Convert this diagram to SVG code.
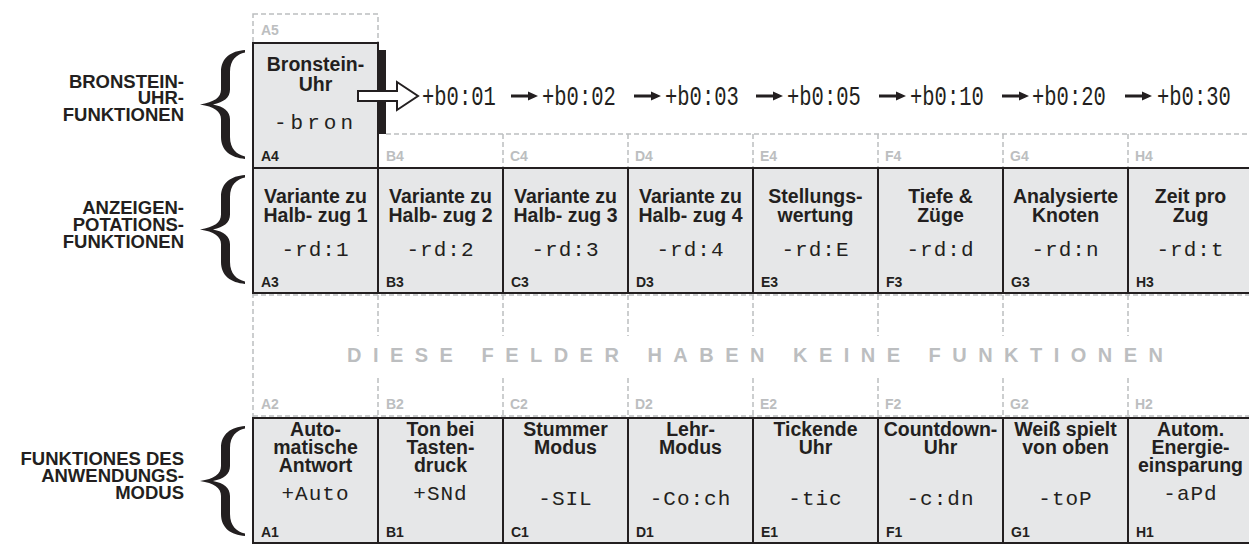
<svg xmlns="http://www.w3.org/2000/svg" xmlns:xlink="http://www.w3.org/1999/xlink" width="1249" height="545" viewBox="0 0 1249 545">
<style>
.cell{fill:#e6e7e8;stroke:#231f20;stroke-width:2}
.t{font-family:"Liberation Sans",Arial,sans-serif;font-weight:bold;font-size:19.5px;fill:#231f20;text-anchor:middle}
.lcd{font-family:"Liberation Mono","DejaVu Sans Mono",monospace;font-size:21px;fill:#231f20;text-anchor:middle;letter-spacing:1px}
.clk{font-family:"Liberation Mono","DejaVu Sans Mono",monospace;font-size:20.5px;fill:#231f20}
.id{font-family:"Liberation Sans",Arial,sans-serif;font-weight:bold;font-size:14px;fill:#231f20}
.gid{font-family:"Liberation Sans",Arial,sans-serif;font-weight:bold;font-size:14px;fill:#bcbec0}
.dash{stroke:#bcbec0;stroke-width:1.5;stroke-dasharray:5 3;fill:none}
.side{font-family:"Liberation Sans",Arial,sans-serif;font-weight:bold;font-size:18.5px;fill:#231f20;text-anchor:end}
.note{font-family:"Liberation Sans",Arial,sans-serif;font-weight:bold;font-size:20px;fill:#bcbec0}
.brace{fill:#231f20}
.ar{fill:#231f20}
</style>
<defs>
<path id="brace" d="M45,0 C31,1 21,8 21,22 L21,40 C21,48 14,53 0,55 C14,57 21,62 21,70 L21,88 C21,102 31,109 45,110 L45,107.5 C37,106 30,100 30,88 L30,70 C30,62 24,57 13,55 C24,53 30,48 30,40 L30,22 C30,10 37,4 45,2.5 Z"/>
<path id="arr" d="M0,-1.6 L17,-1.6 L17,-4.6 L27,0 L17,4.6 L17,1.6 L0,1.6 Z"/>
</defs>

<g id="grid">
<rect class="dash" x="253" y="14" width="125" height="29"/>
<line class="dash" x1="386" y1="134" x2="1249" y2="134"/>
<path class="dash" d="M503,134V168M628,134V168M753,134V168M878,134V168M1003,134V168M1128,134V168"/>
<line class="dash" x1="253" y1="295" x2="1249" y2="295"/>
<line class="dash" x1="253" y1="416" x2="1249" y2="416"/>
<line class="dash" x1="253" y1="293" x2="253" y2="418"/>
<path class="dash" d="M378,295V336M503,295V336M628,295V336M753,295V336M878,295V336M1003,295V336M1128,295V336"/>
<path class="dash" d="M378,378V418M503,378V418M628,378V418M753,378V418M878,378V418M1003,378V418M1128,378V418"/>
<text class="gid" x="261" y="35">A5</text>
<text class="gid" x="386" y="161">B4</text><text class="gid" x="510" y="161">C4</text><text class="gid" x="635" y="161">D4</text><text class="gid" x="760" y="161">E4</text><text class="gid" x="885" y="161">F4</text><text class="gid" x="1010" y="161">G4</text><text class="gid" x="1135" y="161">H4</text>
<text class="gid" x="261" y="409">A2</text><text class="gid" x="386" y="409">B2</text><text class="gid" x="510" y="409">C2</text><text class="gid" x="635" y="409">D2</text><text class="gid" x="760" y="409">E2</text><text class="gid" x="885" y="409">F2</text><text class="gid" x="1010" y="409">G2</text><text class="gid" x="1135" y="409">H2</text>
<text class="note" x="347" y="362" textLength="816" lengthAdjust="spacing">DIESE FELDER HABEN KEINE FUNKTIONEN</text>
</g>

<g id="group-labels">
<use href="#brace" class="brace" transform="translate(200,50) scale(1,0.99)"/>
<text class="side" x="184" y="88">BRONSTEIN-</text>
<text class="side" x="184" y="104">UHR-</text>
<text class="side" x="184" y="121">FUNKTIONEN</text>
<use href="#brace" class="brace" transform="translate(200,175) scale(1,0.99)"/>
<text class="side" x="184" y="214">ANZEIGEN-</text>
<text class="side" x="184" y="231">POTATIONS-</text>
<text class="side" x="184" y="248">FUNKTIONEN</text>
<use href="#brace" class="brace" transform="translate(200,426) scale(1,1.0)"/>
<text class="side" x="184" y="465">FUNKTIONES DES</text>
<text class="side" x="184" y="482">ANWENDUNGS-</text>
<text class="side" x="184" y="499">MODUS</text>
</g>

<g id="A4">
<rect class="cell" x="253" y="43" width="125" height="125"/>
<rect x="379" y="50" width="7" height="84" fill="#231f20"/>
<text class="t" x="315.5" y="71">Bronstein-</text>
<text class="t" x="315.5" y="91">Uhr</text>
<text class="lcd" x="315.5" y="129" style="letter-spacing:4px">-bron</text>
<text class="id" x="261" y="161">A4</text>
</g>

<g id="clock-values">
<text class="clk" transform="translate(422,105) scale(1,1.35)">+b0:01</text>
<text class="clk" transform="translate(542,105) scale(1,1.35)">+b0:02</text>
<text class="clk" transform="translate(665,105) scale(1,1.35)">+b0:03</text>
<text class="clk" transform="translate(787,105) scale(1,1.35)">+b0:05</text>
<text class="clk" transform="translate(910,105) scale(1,1.35)">+b0:10</text>
<text class="clk" transform="translate(1032,105) scale(1,1.35)">+b0:20</text>
<text class="clk" transform="translate(1157,105) scale(1,1.35)">+b0:30</text>
</g>

<g id="connectors">
<path d="M358,91 L397,91 L397,82 L418,96 L397,110 L397,101 L358,101 Z" fill="#fff" stroke="#231f20" stroke-width="2" stroke-linejoin="miter"/>
<use href="#arr" class="ar" transform="translate(511,96)"/>
<use href="#arr" class="ar" transform="translate(634,96)"/>
<use href="#arr" class="ar" transform="translate(756,96)"/>
<use href="#arr" class="ar" transform="translate(879,96)"/>
<use href="#arr" class="ar" transform="translate(1002,96)"/>
<use href="#arr" class="ar" transform="translate(1125,96)"/>
</g>

<g id="A3"><rect class="cell" x="253" y="168" width="125" height="125"/><text class="t" x="315.5" y="203">Variante zu</text><text class="t" x="315.5" y="222">Halb- zug 1</text><text class="lcd" x="315.5" y="256">-rd:1</text><text class="id" x="261" y="287">A3</text></g>
<g id="B3"><rect class="cell" x="378" y="168" width="125" height="125"/><text class="t" x="440.5" y="203">Variante zu</text><text class="t" x="440.5" y="222">Halb- zug 2</text><text class="lcd" x="440.5" y="256">-rd:2</text><text class="id" x="386" y="287">B3</text></g>
<g id="C3"><rect class="cell" x="503" y="168" width="125" height="125"/><text class="t" x="565.5" y="203">Variante zu</text><text class="t" x="565.5" y="222">Halb- zug 3</text><text class="lcd" x="565.5" y="256">-rd:3</text><text class="id" x="511" y="287">C3</text></g>
<g id="D3"><rect class="cell" x="628" y="168" width="125" height="125"/><text class="t" x="690.5" y="203">Variante zu</text><text class="t" x="690.5" y="222">Halb- zug 4</text><text class="lcd" x="690.5" y="256">-rd:4</text><text class="id" x="636" y="287">D3</text></g>
<g id="E3"><rect class="cell" x="753" y="168" width="125" height="125"/><text class="t" x="815.5" y="203">Stellungs-</text><text class="t" x="815.5" y="222">wertung</text><text class="lcd" x="815.5" y="256">-rd:E</text><text class="id" x="761" y="287">E3</text></g>
<g id="F3"><rect class="cell" x="878" y="168" width="125" height="125"/><text class="t" x="940.5" y="203">Tiefe &amp;</text><text class="t" x="940.5" y="222">Züge</text><text class="lcd" x="940.5" y="256">-rd:d</text><text class="id" x="886" y="287">F3</text></g>
<g id="G3"><rect class="cell" x="1003" y="168" width="125" height="125"/><text class="t" x="1065.5" y="203">Analysierte</text><text class="t" x="1065.5" y="222">Knoten</text><text class="lcd" x="1065.5" y="256">-rd:n</text><text class="id" x="1011" y="287">G3</text></g>
<g id="H3"><rect class="cell" x="1128" y="168" width="125" height="125"/><text class="t" x="1190.5" y="203">Zeit pro</text><text class="t" x="1190.5" y="222">Zug</text><text class="lcd" x="1190.5" y="256">-rd:t</text><text class="id" x="1136" y="287">H3</text></g>

<g id="A1"><rect class="cell" x="253" y="418" width="125" height="125"/><text class="t" x="315.5" y="436">Auto-</text><text class="t" x="315.5" y="454">matische</text><text class="t" x="315.5" y="472">Antwort</text><text class="lcd" x="315.5" y="500">+Auto</text><text class="id" x="261" y="537">A1</text></g>
<g id="B1"><rect class="cell" x="378" y="418" width="125" height="125"/><text class="t" x="440.5" y="436">Ton bei</text><text class="t" x="440.5" y="454">Tasten-</text><text class="t" x="440.5" y="472">druck</text><text class="lcd" x="440.5" y="500">+SNd</text><text class="id" x="386" y="537">B1</text></g>
<g id="C1"><rect class="cell" x="503" y="418" width="125" height="125"/><text class="t" x="565.5" y="436">Stummer</text><text class="t" x="565.5" y="454">Modus</text><text class="lcd" x="565.5" y="505">-SIL</text><text class="id" x="511" y="537">C1</text></g>
<g id="D1"><rect class="cell" x="628" y="418" width="125" height="125"/><text class="t" x="690.5" y="436">Lehr-</text><text class="t" x="690.5" y="454">Modus</text><text class="lcd" x="690.5" y="505">-Co:ch</text><text class="id" x="636" y="537">D1</text></g>
<g id="E1"><rect class="cell" x="753" y="418" width="125" height="125"/><text class="t" x="815.5" y="436">Tickende</text><text class="t" x="815.5" y="454">Uhr</text><text class="lcd" x="815.5" y="505">-tic</text><text class="id" x="761" y="537">E1</text></g>
<g id="F1"><rect class="cell" x="878" y="418" width="125" height="125"/><text class="t" x="940.5" y="436">Countdown-</text><text class="t" x="940.5" y="454">Uhr</text><text class="lcd" x="940.5" y="505">-c:dn</text><text class="id" x="886" y="537">F1</text></g>
<g id="G1"><rect class="cell" x="1003" y="418" width="125" height="125"/><text class="t" x="1065.5" y="436">Weiß spielt</text><text class="t" x="1065.5" y="454">von oben</text><text class="lcd" x="1065.5" y="505">-toP</text><text class="id" x="1011" y="537">G1</text></g>
<g id="H1"><rect class="cell" x="1128" y="418" width="125" height="125"/><text class="t" x="1190.5" y="436">Autom.</text><text class="t" x="1190.5" y="454">Energie-</text><text class="t" x="1190.5" y="472">einsparung</text><text class="lcd" x="1190.5" y="500">-aPd</text><text class="id" x="1136" y="537">H1</text></g>
</svg>
